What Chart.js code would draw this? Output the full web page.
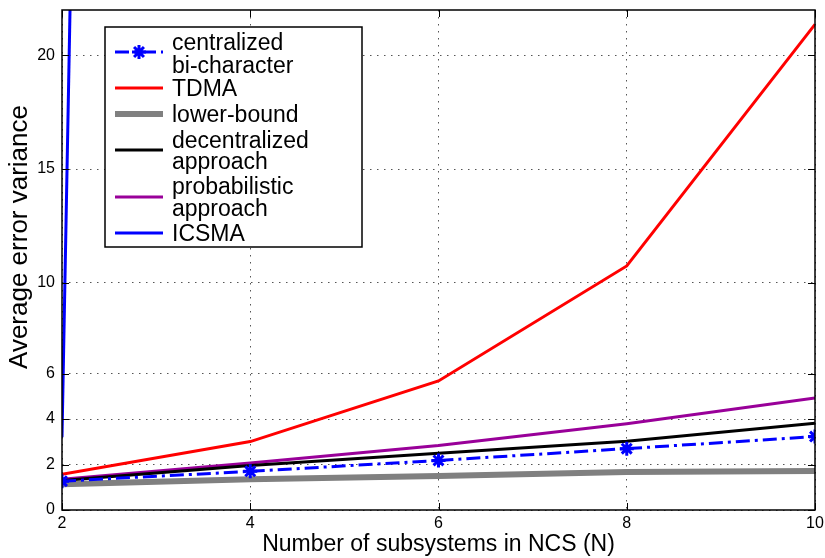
<!DOCTYPE html>
<html>
<head>
<meta charset="utf-8">
<script src="https://cdn.jsdelivr.net/npm/chart.js@4/dist/chart.umd.min.js"></script>
<style>
  body { margin: 0; background: #fff; }
</style>
</head>
<body>
<canvas id="chart" width="825" height="558"></canvas>
<script>
// subsystems N
var nValues = [2, 4, 6, 8, 10];
var yTicks = [0, 2, 4, 6, 10, 15, 20];

var centralized = [1.27, 1.70, 2.18, 2.70, 3.23];
var tdma = [1.57, 3.01, 5.68, 10.74, 21.37];
var lowerBound = [1.13, 1.35, 1.50, 1.67, 1.72];
var decentralized = [1.30, 1.96, 2.50, 3.02, 3.82];
var probabilistic = [1.35, 2.07, 2.84, 3.80, 4.93];
// ICSMA shoots off the top right after N=2
var icsmaN = [2, 4];
var icsma = [3.2, 445];

function pts(xs, ys) {
    return xs.map(function (x, i) { return { x: x, y: ys[i] }; });
}

var FONT = "'Liberation Sans', Arial, sans-serif";

var datasets = [
    {
        label: ['centralized', 'bi-character'],
        data: pts(nValues, centralized),
        borderColor: '#0000ff',
        backgroundColor: '#0000ff',
        borderWidth: 3,
        borderDash: [14, 5, 3, 5],
        pointStyle: 'star',
        pointRadius: 7,
        pointBorderWidth: 3,
        pointBorderColor: '#0000ff',
        order: 1
    },
    {
        label: ['TDMA'],
        data: pts(nValues, tdma),
        borderColor: '#ff0000',
        borderWidth: 3,
        pointRadius: 0,
        order: 2
    },
    {
        label: ['lower-bound'],
        data: pts(nValues, lowerBound),
        borderColor: '#808080',
        borderWidth: 6,
        pointRadius: 0,
        order: 6
    },
    {
        label: ['decentralized', 'approach'],
        data: pts(nValues, decentralized),
        borderColor: '#000000',
        borderWidth: 3,
        pointRadius: 0,
        order: 4
    },
    {
        label: ['probabilistic', 'approach'],
        data: pts(nValues, probabilistic),
        borderColor: '#990099',
        borderWidth: 3,
        pointRadius: 0,
        order: 5
    },
    {
        label: ['ICSMA'],
        data: pts(icsmaN, icsma),
        borderColor: '#0000ff',
        borderWidth: 3,
        pointRadius: 0,
        order: 3
    }
];

// box, inward ticks, axis titles and the legend box
var extras = {
    id: 'extras',
    afterDatasetsDraw: function (chart) {
        var ctx = chart.ctx;
        var a = chart.chartArea;
        var xs = chart.scales.x, ys = chart.scales.y;
        ctx.save();
        ctx.strokeStyle = '#000';
        ctx.lineWidth = 1.5;
        ctx.setLineDash([]);
        ctx.strokeRect(a.left, a.top, a.right - a.left, a.bottom - a.top);
        ctx.lineWidth = 1;
        ctx.beginPath();
        yTicks.forEach(function (v) {
            var py = Math.round(ys.getPixelForValue(v)) + 0.5;
            ctx.moveTo(a.left, py); ctx.lineTo(a.left + 7, py);
            ctx.moveTo(a.right, py); ctx.lineTo(a.right - 7, py);
        });
        nValues.forEach(function (v) {
            var px = Math.round(xs.getPixelForValue(v)) + 0.5;
            ctx.moveTo(px, a.bottom); ctx.lineTo(px, a.bottom - 7);
            ctx.moveTo(px, a.top); ctx.lineTo(px, a.top + 7);
        });
        ctx.stroke();

        // axis titles
        ctx.fillStyle = '#000';
        ctx.textAlign = 'center';
        ctx.textBaseline = 'middle';
        ctx.font = '23px ' + FONT;
        ctx.fillText('Number of subsystems in NCS (N)', (a.left + a.right) / 2, 545);
        ctx.save();
        ctx.translate(20, 237);
        ctx.rotate(-Math.PI / 2);
        ctx.font = '26px ' + FONT;
        ctx.fillText('Average error variance', 0, 0);
        ctx.restore();

        // legend
        var bx = 105, by = 27, bw = 257, bh = 220;
        ctx.fillStyle = '#fff';
        ctx.fillRect(bx, by, bw, bh);
        ctx.strokeStyle = '#000';
        ctx.lineWidth = 1.5;
        ctx.strokeRect(bx, by, bw, bh);

        var sampleY = [52, 88, 114, 150, 197, 233];
        var textY = [[44, 67], [90], [116], [142, 163], [188, 210], [235]];
        ctx.font = '23px ' + FONT;
        ctx.textAlign = 'left';
        ctx.textBaseline = 'middle';
        chart.data.datasets.forEach(function (ds, i) {
            var sy = sampleY[i];
            ctx.strokeStyle = ds.borderColor;
            ctx.lineWidth = ds.borderWidth;
            ctx.setLineDash(ds.borderDash || []);
            ctx.beginPath();
            ctx.moveTo(115, sy);
            ctx.lineTo(163, sy);
            ctx.stroke();
            ctx.setLineDash([]);
            if (ds.pointStyle === 'star') {
                Chart.helpers.drawPoint(ctx, {
                    pointStyle: 'star', radius: ds.pointRadius, rotation: 0,
                    borderWidth: ds.pointBorderWidth
                }, 139, sy);
            }
            ctx.fillStyle = '#000';
            ds.label.forEach(function (line, j) {
                ctx.fillText(line, 172, textY[i][j]);
            });
        });
        ctx.restore();
    }
};

var config = {
    type: 'line',
    data: { datasets: datasets },
    plugins: [extras],
    options: {
        responsive: false,
        animation: false,
        layout: { padding: { top: 7, right: 10, left: 0, bottom: 0 } },
        plugins: {
            legend: { display: false },
            tooltip: { enabled: false }
        },
        scales: {
            x: {
                type: 'linear',
                min: 2,
                max: 10,
                afterFit: function (s) {
                    s.height = 48;
                    s.paddingLeft = 0;
                    s.paddingRight = 0;
                },
                ticks: {
                    stepSize: 2,
                    color: '#000',
                    padding: 4,
                    font: { family: FONT, size: 16 }
                },
                grid: {
                    drawTicks: false,
                    color: '#555',
                    lineWidth: 1
                },
                border: { display: false, dash: [1.5, 5.5] }
            },
            y: {
                min: 0,
                max: 22,
                afterFit: function (s) {
                    s.width = 62;
                    s.paddingTop = 0;
                    s.paddingBottom = 0;
                },
                afterBuildTicks: function (s) {
                    s.ticks = yTicks.map(function (v) { return { value: v }; });
                },
                ticks: {
                    color: '#000',
                    padding: 7,
                    font: { family: FONT, size: 16 }
                },
                grid: {
                    drawTicks: false,
                    color: '#555',
                    lineWidth: 1
                },
                border: { display: false, dash: [1.5, 5.5] }
            }
        }
    }
};

var ctx = document.getElementById('chart').getContext('2d');
new Chart(ctx, config);
</script>
</body>
</html>
